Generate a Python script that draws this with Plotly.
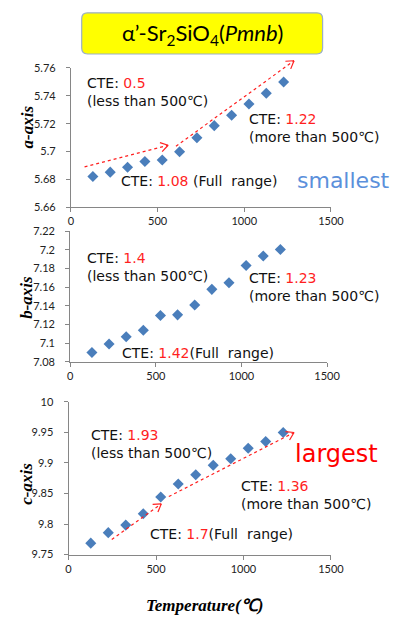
import math
import plotly.graph_objects as go

W, H = 398, 620

# ---------------- data ----------------
temperature = [127, 227, 327, 427, 527, 627, 727, 827, 927, 1027, 1127, 1227]
a_axis = [5.6821, 5.6852, 5.6887, 5.6929, 5.6939, 5.6998, 5.7099, 5.7186, 5.7261, 5.7341, 5.7419, 5.7499]
b_axis = [7.0901, 7.0992, 7.1069, 7.1139, 7.1297, 7.1304, 7.1409, 7.1577, 7.1647, 7.1832, 7.1934, 7.2004]
c_axis = [9.7687, 9.7859, 9.7982, 9.8169, 9.8442, 9.8656, 9.8806, 9.8961, 9.9069, 9.9240, 9.9352, 9.9497]

x_tickvals = [0, 500, 1000, 1500]
a_tickvals = [5.66, 5.68, 5.70, 5.72, 5.74, 5.76]
a_ticktext = ["5.66", "5.68", "5.7", "5.72", "5.74", "5.76"]
b_tickvals = [7.08, 7.10, 7.12, 7.14, 7.16, 7.18, 7.20, 7.22]
b_ticktext = ["7.08", "7.1", "7.12", "7.14", "7.16", "7.18", "7.2", "7.22"]
c_tickvals = [9.75, 9.80, 9.85, 9.90, 9.95, 10.0]
c_ticktext = ["9.75", "9.8", "9.85", "9.9", "9.95", "10"]

# CTE labels: (low, high, full)
cte_a = ["0.5", "1.22", "1.08"]
cte_b = ["1.4", "1.23", "1.42"]
cte_c = ["1.93", "1.36", "1.7"]

# dotted trend arrows (data coords: x0, y0, x1, y1)
arrows_a = [(79, 5.689, 561, 5.7045), (606, 5.7038, 1287, 5.7652)]
arrows_c = [(247, 9.7745, 530, 9.833), (573, 9.845, 1289, 9.9498)]

# ---------------- layout geometry (pixels) ----------------
panels = {
    "a": dict(l=70.7, r=341.7, t=62.3, b=204.5, yr=(5.66, 5.76)),
    "b": dict(l=70.0, r=337.7, t=229.0, b=362.5, yr=(7.08, 7.22)),
    "c": dict(l=68.3, r=341.7, t=403.3, b=559.3, yr=(9.75, 10.0)),
}
XR = (0, 1500)

def px(x):
    return x / W

def py(y):
    return 1 - y / H

def data_to_pix(p, x, y):
    g = panels[p]
    X = g["l"] + (x - XR[0]) / (XR[1] - XR[0]) * (g["r"] - g["l"])
    Y = g["b"] - (y - g["yr"][0]) / (g["yr"][1] - g["yr"][0]) * (g["b"] - g["t"])
    return X, Y

TXT = "DejaVu Sans"
BLUE = "#4A7EBB"
RED = "#FF1F1F"
AX = "#868686"

fig = go.Figure()
series = [("a", a_axis, "x", "y"), ("b", b_axis, "x2", "y2"), ("c", c_axis, "x3", "y3")]
for name, vals, xa, ya in series:
    fig.add_trace(go.Scatter(
        x=temperature, y=vals, mode="markers", xaxis=xa, yaxis=ya,
        marker=dict(symbol="diamond", size=8.5, color=BLUE, line=dict(width=0)),
        showlegend=False, hoverinfo="x+y"))

axis_common = dict(showgrid=False, zeroline=False, showline=True, linecolor=AX, linewidth=1,
                   ticks="outside", ticklen=4, tickcolor=AX,
                   tickfont=dict(family="Lato", size=11, color="#222"))

layout = dict(width=W, height=H, margin=dict(l=0, r=0, t=0, b=0),
              plot_bgcolor="white", paper_bgcolor="white", showlegend=False)

ytick = {"a": (a_tickvals, a_ticktext), "b": (b_tickvals, b_ticktext), "c": (c_tickvals, c_ticktext)}
for i, p in enumerate(["a", "b", "c"]):
    g = panels[p]
    sx = "" if i == 0 else str(i + 1)
    layout["xaxis" + sx] = dict(axis_common, domain=[px(g["l"]), px(g["r"])], range=list(XR),
                                tickvals=x_tickvals, anchor="y" + sx)
    tv, tt = ytick[p]
    layout["yaxis" + sx] = dict(axis_common, domain=[py(g["b"]), py(g["t"])], range=list(g["yr"]),
                                tickvals=tv, ticktext=tt, anchor="x" + sx, ticklabelstandoff=8)
fig.update_layout(**layout)

shapes = []
annotations = []

# title box
def rounded(x0, y0, x1, y1, r):
    return (f"M {px(x0+r)},{py(y0)} L {px(x1-r)},{py(y0)} Q {px(x1)},{py(y0)} {px(x1)},{py(y0+r)} "
            f"L {px(x1)},{py(y1-r)} Q {px(x1)},{py(y1)} {px(x1-r)},{py(y1)} "
            f"L {px(x0+r)},{py(y1)} Q {px(x0)},{py(y1)} {px(x0)},{py(y1-r)} "
            f"L {px(x0)},{py(y0+r)} Q {px(x0)},{py(y0)} {px(x0+r)},{py(y0)} Z")

shapes.append(dict(type="path", xref="paper", yref="paper", path=rounded(82, 6, 333, 48, 6),
                   fillcolor="#FFFF00", line=dict(color="#9BAFC8", width=1.2)))
annotations.append(dict(xref="paper", yref="paper", x=px(207.5), y=py(28), xanchor="center", yanchor="middle",
                        showarrow=False,
                        text="α’-Sr<sub>2</sub>SiO<sub>4</sub>(<i>Pmnb</i>)",
                        font=dict(family="Lato", size=22, color="black")))

def note(x, y, text, size=14, color="#111", family=TXT):
    annotations.append(dict(xref="paper", yref="paper", x=px(x), y=py(y), xanchor="left", yanchor="middle",
                            align="left", showarrow=False, text=text, borderpad=0,
                            font=dict(family=family, size=size, color=color)))

def red(s):
    return f"<span style='color:{RED}'>{s}</span>"

# panel a notes
note(86, 87, "CTE: " + red(cte_a[0]) + "<br>(less than 500℃)")
note(255, 124, "CTE: " + red(cte_a[1]) + "<br>(more than 500℃)")
note(122, 178, "CTE: " + red(cte_a[2]) + " (Full  range)")
note(305, 177, "smallest", size=22, color="#5B90DB", family="DejaVu Sans")
# panel b notes
note(86, 266, "CTE: " + red(cte_b[0]) + "<br>(less than 500℃)")
note(255, 286, "CTE: " + red(cte_b[1]) + "<br>(more than 500℃)")
note(123, 353, "CTE: " + red(cte_b[2]) + "(Full  range)")
# panel c notes
note(91, 446, "CTE: " + red(cte_c[0]) + "<br>(less than 500℃)")
note(303, 457, "largest", size=24, color="#FF0000", family="DejaVu Sans")
note(247, 498, "CTE: " + red(cte_c[1]) + "<br>(more than 500℃)")
note(152, 538, "CTE: " + red(cte_c[2]) + "(Full  range)")

# axis titles
TF = dict(family="Liberation Serif", size=17, color="black")
for txt, y in [("a-axis", 122), ("b-axis", 296), ("c-axis", 487)]:
    annotations.append(dict(xref="paper", yref="paper", x=px(25), y=py(y), xanchor="center", yanchor="middle",
                            textangle=-90, showarrow=False, text=f"<b><i>{txt}</i></b>", font=TF))
annotations.append(dict(xref="paper", yref="paper", x=px(210), y=py(611), xanchor="center", yanchor="middle",
                        showarrow=False, text="<b><i>Temperature(℃)</i></b>", font=TF))

# dotted arrows with open V heads
def add_arrow(p, x0, y0, x1, y1):
    X0, Y0 = data_to_pix(p, x0, y0)
    X1, Y1 = data_to_pix(p, x1, y1)
    shapes.append(dict(type="line", xref="paper", yref="paper", x0=px(X0), y0=py(Y0), x1=px(X1), y1=py(Y1),
                       line=dict(color=RED, width=1.2, dash="dot")))
    ang = math.atan2(Y1 - Y0, X1 - X0)
    L, spread = 9, math.radians(32)
    for s in (-1, 1):
        a = ang + math.pi + s * spread
        hx, hy = X1 + L * math.cos(a), Y1 + L * math.sin(a)
        shapes.append(dict(type="line", xref="paper", yref="paper", x0=px(X1), y0=py(Y1), x1=px(hx), y1=py(hy),
                           line=dict(color=RED, width=1.2)))

for ar in arrows_a:
    add_arrow("a", *ar)
for ar in arrows_c:
    add_arrow("c", *ar)

fig.update_layout(shapes=shapes, annotations=annotations)
fig.write_html("out.html")
